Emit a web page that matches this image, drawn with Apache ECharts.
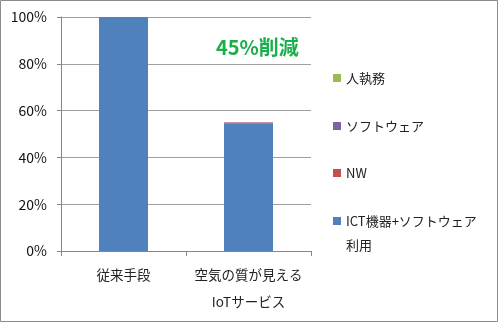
<!DOCTYPE html>
<html>
<head>
<meta charset="utf-8">
<script src="https://cdn.jsdelivr.net/npm/echarts@6/dist/echarts.min.js"></script>
<style>
  html, body { margin: 0; padding: 0; background: #fff; }
  #chart { width: 500px; height: 323px; }
</style>
</head>
<body>
<div id="chart"></div>
<script>
// Cost comparison, stacked share of the conventional method (= 100%)
const categories = ['従来手段', '空気の質が見える\nIoTサービス'];
const ictValues = [100, 54.4];      // ICT機器+ソフトウェア利用
const nwValues = [0, 0.56];        // NW
const softwareValues = [0, 0.02];  // ソフトウェア
const staffValues = [0, 0.02];     // 人執務
const yTicks = [0, 20, 40, 60, 80, 100];
const reductionText = '45%削減';

const seriesNames = ['ICT機器+ソフトウェア利用', 'NW', 'ソフトウェア', '人執務'];
const seriesColors = ['#4F81BD', '#C0504D', '#8064A2', '#9BBB59'];
const seriesData = [ictValues, nwValues, softwareValues, staffValues];

const font = "'Noto Sans CJK JP', 'Noto Sans', sans-serif";

const chart = echarts.init(document.getElementById('chart'), null, { renderer: 'canvas' });

// one legend per entry so each row sits at its own height
const legendTops = { '人執務': 66, 'ソフトウェア': 114, 'NW': 161, 'ICT機器+ソフトウェア利用': 185 };
const legends = Object.keys(legendTops).map(function (name) {
  return {
    data: [name],
    orient: 'vertical',
    left: 333,
    top: legendTops[name],
    itemWidth: 8,
    itemHeight: 8,
    icon: 'rect',
    selectedMode: false,
    padding: 0,
    textStyle: { fontFamily: font, fontSize: 13, color: '#222', lineHeight: 24 },
    formatter: function (n) {
      return n === 'ICT機器+ソフトウェア利用' ? '\nICT機器+ソフトウェア\n利用' : n;
    }
  };
});

const option = {
  animation: false,
  backgroundColor: '#fff',
  grid: { left: 61, right: 189, top: 17, bottom: 72, containLabel: false },
  legend: legends,
  xAxis: {
    type: 'category',
    data: categories,
    axisLine: { show: true, lineStyle: { color: '#868686', width: 1 } },
    axisTick: { show: true, length: 5, lineStyle: { color: '#868686' } },
    axisLabel: {
      interval: 0,
      hideOverlap: false,
      fontFamily: font, fontSize: 13.5, color: '#222', lineHeight: 27,
      margin: 10, verticalAlign: 'top'
    }
  },
  yAxis: {
    type: 'value',
    min: yTicks[0],
    max: yTicks[yTicks.length - 1],
    interval: yTicks[1] - yTicks[0],
    axisLine: { show: true, lineStyle: { color: '#868686', width: 1 } },
    axisTick: { show: true, length: 4, lineStyle: { color: '#868686' } },
    splitLine: { show: true, lineStyle: { color: '#A0A0A0', width: 1 } },
    axisLabel: {
      fontFamily: font, fontSize: 14, color: '#111', margin: 14,
      formatter: function (v) { return v + '%'; }
    }
  },
  series: seriesNames.map(function (name, i) {
    return {
      name: name,
      type: 'bar',
      stack: 'total',
      barWidth: 49,
      itemStyle: { color: seriesColors[i] },
      data: seriesData[i]
    };
  }),
  graphic: [
    {
      type: 'rect',
      shape: { x: 0.5, y: 0.5, width: 497, height: 321 },
      style: { fill: null, stroke: '#8C8C8C', lineWidth: 1 },
      silent: true
    },
    {
      type: 'text',
      left: 216,
      top: 37,
      style: {
        text: reductionText,
        fill: '#1BAF4B',
        font: 'bold 20px ' + font
      }
    }
  ]
};

chart.setOption(option);
</script>
</body>
</html>
